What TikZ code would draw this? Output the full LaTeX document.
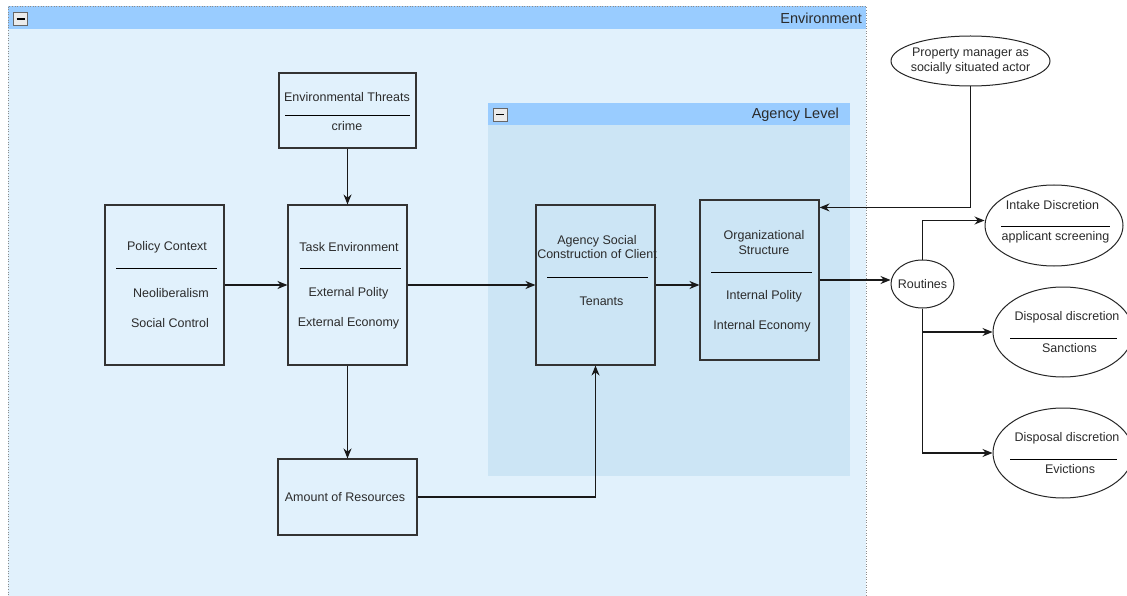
\documentclass[tikz,border=0pt]{standalone}
\usepackage{fontspec}
\setmainfont{Liberation Sans}
\usetikzlibrary{positioning,arrows.meta,shapes.geometric,calc}
\usepackage{xcolor}
\definecolor{envfill}{HTML}{E1F1FC}
\definecolor{headfill}{HTML}{99CCFF}
\definecolor{agencyfill}{HTML}{CCE5F5}
\definecolor{textgray}{HTML}{2B2B2B}

\begin{document}
\begin{tikzpicture}[x=1pt, y=-1pt,
    conceptBox/.style={rectangle, draw=black!80, line width=1.1pt, minimum width=119pt, minimum height=160pt, inner sep=0pt},
    conceptOval/.style={ellipse, draw=black!85, line width=1pt, fill=white, inner sep=0pt},
    boxText/.style={font=\fontsize{12.5}{14.5}\selectfont, text=textgray, inner sep=0pt, align=center},
    headText/.style={font=\fontsize{14.5}{16}\selectfont, text=textgray, inner sep=0pt, anchor=east},
    minusBox/.style={rectangle, draw=black!60, fill=black!8, minimum width=14pt, minimum height=13pt, inner sep=0pt},
    divider/.style={line width=1pt, black},
    flow/.style={-{Stealth[length=10pt, width=8pt]}, line width=1.1pt, black!90}
]
    \useasboundingbox (0,0) rectangle (1127,596);

    \fill[envfill] (8,6) rectangle (866,600);
    \fill[headfill] (8,6) rectangle (866,29);
    \draw[black!45, dotted, line width=0.6pt] (8,600) -- (8,6) -- (866,6) -- (866,600);
    \node[minusBox] (envMin) at (20.5,19) {};
    \draw[line width=1.6pt] ($(envMin.center)+(-4,0)$) -- ($(envMin.center)+(4,0)$);
    \node[headText] (envTitle) at (862,18) {Environment};

    \fill[agencyfill] (488,103) rectangle (850,476);
    \fill[headfill] (488,103) rectangle (850,125);
    \node[minusBox] (agencyMin) at (500,114.5) {};
    \draw[line width=1.6pt] ($(agencyMin.center)+(-4,0)$) -- ($(agencyMin.center)+(4,0)$);
    \node[headText] (agencyTitle) at (839,115) {Agency Level};

    \node[conceptBox, minimum width=137pt, minimum height=75pt] (threats) at (347.5,110.5) {};
    \node[boxText] (threatsTitle) at (347,97) {Environmental Threats};
    \draw[divider] (285,116) -- (410,116);
    \node[boxText] (threatsItem) at (347,126) {crime};

    \node[conceptBox] (policy) at (164.5,285) {};
    \node[boxText] (policyTitle) at (167,247) {Policy Context};
    \draw[divider] (116,268) -- (217,268);
    \node[boxText] (policyA) at (171,293) {Neoliberalism};
    \node[boxText] (policyB) at (170,323) {Social Control};

    \node[conceptBox] (task) at (347.5,285) {};
    \node[boxText] (taskTitle) at (349,247) {Task Environment};
    \draw[divider] (300,268) -- (401,268);
    \node[boxText] (taskA) at (348.5,293) {External Polity};
    \node[boxText] (taskB) at (348.5,323) {External Economy};

    \node[conceptBox, minimum width=139pt, minimum height=76pt] (resources) at (347.5,497) {};
    \node[boxText] (resourcesText) at (345,497) {Amount of Resources};

    \node[conceptBox] (client) at (595.5,285) {};
    \node[boxText] (clientTitle) at (597,247) {Agency Social\\Construction of Client};
    \draw[divider] (547,277) -- (648,277);
    \node[boxText] (clientItem) at (601.5,301) {Tenants};

    \node[conceptBox] (org) at (759.5,280) {};
    \node[boxText] (orgTitle) at (764,242.5) {Organizational\\Structure};
    \draw[divider] (711,272) -- (812,272);
    \node[boxText] (orgA) at (764,296) {Internal Polity};
    \node[boxText] (orgB) at (762,326) {Internal Economy};

    \node[conceptOval, minimum width=159pt, minimum height=50pt, label={[boxText]center:{Property manager as\\socially situated actor}}] (manager) at (970.5,61) {};
    \node[conceptOval, minimum width=63pt, minimum height=48pt, label={[boxText]center:Routines}] (routines) at (922.5,284) {};

    \node[conceptOval, minimum width=138pt, minimum height=81pt] (intake) at (1054,225.5) {};
    \node[boxText] (intakeTitle) at (1052.5,205) {Intake Discretion};
    \draw[divider] (1001,227) -- (1110,227);
    \node[boxText] (intakeItem) at (1055.5,237) {applicant screening};

    \node[conceptOval, minimum width=140pt, minimum height=90pt] (sanctions) at (1063,332) {};
    \node[boxText] (sanctionsTitle) at (1067,317) {Disposal discretion};
    \draw[divider] (1010,338) -- (1117,338);
    \node[boxText] (sanctionsItem) at (1069.5,348) {Sanctions};

    \node[conceptOval, minimum width=140pt, minimum height=90pt] (evictions) at (1063,453) {};
    \node[boxText] (evictionsTitle) at (1067,438) {Disposal discretion};
    \draw[divider] (1010,459) -- (1117,459);
    \node[boxText] (evictionsItem) at (1070,469) {Evictions};

    \draw[flow] (threats) -- (task);
    \draw[flow] (policy) -- (task);
    \draw[flow] (task) -- (client);
    \draw[flow] (task) -- (resources);
    \draw[flow] (resources) -| (client);
    \draw[flow] (client) -- (client -| org.west);
    \draw[flow] (org.east) -- (org.east -| routines.west);
    \draw[flow] (manager.south) |- ($(org.north east)+(0,8)$);
    \draw[flow] (routines.north) |- ($(intake.west)+(0,-5)$);
    \draw[flow] (routines.south) |- (sanctions.west);
    \draw[flow] (routines.south) |- (evictions.west);
\end{tikzpicture}
\end{document}
